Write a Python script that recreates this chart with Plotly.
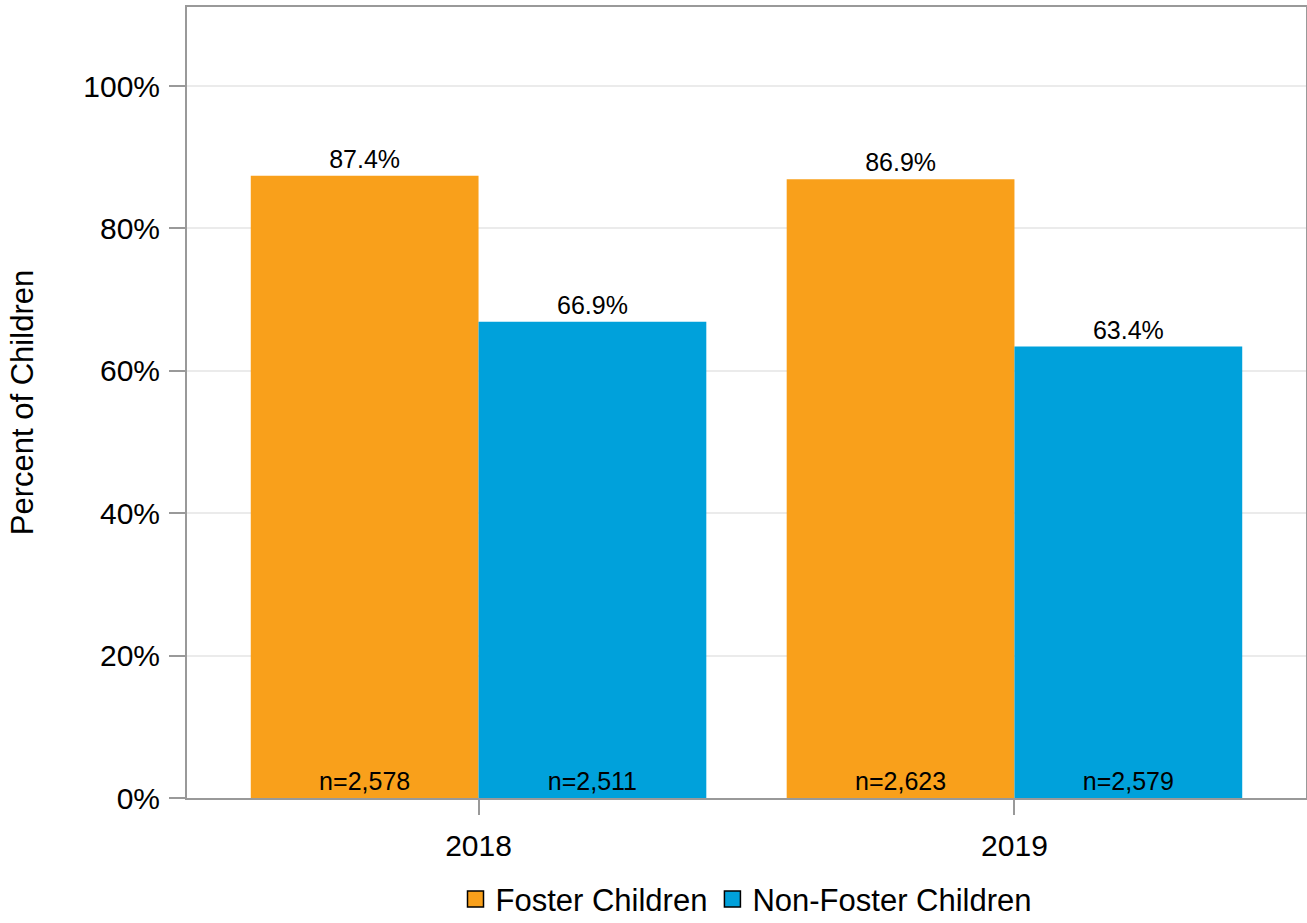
import plotly.graph_objects as go

years = ["2018", "2019"]
series_names = ["Foster Children", "Non-Foster Children"]
foster_pct = [87.4, 86.9]
nonfoster_pct = [66.9, 63.4]
foster_n = [2578, 2623]
nonfoster_n = [2511, 2579]
y_ticks = [0, 20, 40, 60, 80, 100]
y_tick_labels = [f"{v}%" for v in y_ticks]

colors = ["#F9A01B", "#00A1DB"]
FONT = "Liberation Sans, Arial, sans-serif"

fig = go.Figure()
values = [foster_pct, nonfoster_pct]
ns = [foster_n, nonfoster_n]

# Main bars with n labels at the bottom
for name, vals, nn, col in zip(series_names, values, ns, colors):
    fig.add_trace(go.Bar(
        x=years, y=vals, name=name, marker=dict(color=col, line=dict(width=0)),
        text=[f"n={v:,}" for v in nn], textposition="inside", insidetextanchor="start",
        insidetextfont=dict(family=FONT, size=25, color="black"),
        textangle=0, showlegend=False, hoverinfo="skip",
    ))

# Transparent overlay bars carrying the value labels above
for name, vals, col in zip(series_names, values, colors):
    fig.add_trace(go.Bar(
        x=years, y=vals, name=name, xaxis="x2",
        marker=dict(color="rgba(0,0,0,0)", line=dict(width=0)),
        text=[f"{v:.1f}%" for v in vals], textposition="outside",
        outsidetextfont=dict(family=FONT, size=25, color="black"),
        textangle=0, cliponaxis=False, showlegend=False, hoverinfo="skip",
    ))

# Legend entries
for name, col in zip(series_names, colors):
    fig.add_trace(go.Scatter(
        x=[None], y=[None], mode="markers", name=name,
        marker=dict(symbol="square", size=19, color=col, line=dict(color="black", width=1.5)),
    ))

fig.update_layout(
    width=1307, height=923,
    margin=dict(l=187, r=1, t=7, b=125, autoexpand=False),
    paper_bgcolor="white", plot_bgcolor="white",
    barmode="group", bargap=0.15, bargroupgap=0,
    font=dict(family=FONT, color="black"),
    showlegend=True,
    legend=dict(orientation="h", x=0.5, xanchor="center", y=-0.094, yanchor="top",
                font=dict(family=FONT, size=31, color="black"), itemwidth=30,
                tracegroupgap=0),
    xaxis=dict(type="category", range=[-0.544, 1.544], showgrid=False,
               showline=True, linecolor="#999999", linewidth=2, mirror=True,
               ticks="outside", ticklen=15, tickwidth=1.5, tickcolor="#999999",
               ticklabelstandoff=5,
               tickfont=dict(family=FONT, size=30, color="black"), zeroline=False),
    xaxis2=dict(type="category", overlaying="x", matches="x", visible=False),
    yaxis=dict(range=[0, 111.1], tickvals=y_ticks, ticktext=y_tick_labels,
               showgrid=True, gridcolor="#EBEBEB", gridwidth=2,
               showline=True, linecolor="#999999", linewidth=2, mirror=True,
               ticks="outside", ticklen=16, tickwidth=1.5, tickcolor="#999999",
               ticklabelstandoff=3,
               tickfont=dict(family=FONT, size=30, color="black"), zeroline=False,
               title=dict(text="Percent of Children", font=dict(family=FONT, size=31, color="black"),
                          standoff=40)),
)

fig.write_html("out.html")
